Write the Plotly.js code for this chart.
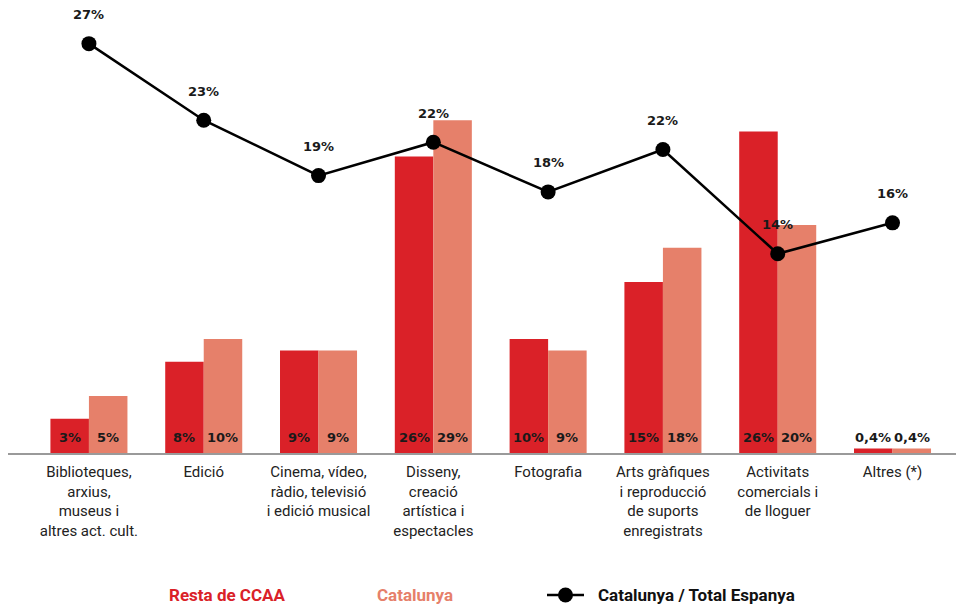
<!DOCTYPE html>
<html>
<head>
<meta charset="utf-8">
<script src="https://cdn.plot.ly/plotly-3.0.1.min.js"></script>
<style>html,body{margin:0;padding:0;background:#fff;}#chart{width:956px;height:606px;}</style>
</head>
<body>
<div id="chart"></div>
<script>
// ---- data ----
const categories = [
  'Biblioteques,<br>arxius,<br>museus i<br>altres act. cult.',
  'Edició',
  'Cinema, vídeo,<br>ràdio, televisió<br>i edició musical',
  'Disseny,<br>creació<br>artística i<br>espectacles',
  'Fotografia',
  'Arts gràfiques<br>i reproducció<br>de suports<br>enregistrats',
  'Activitats<br>comercials i<br>de lloguer',
  'Altres (*)'
];
const restaValues = [3, 8, 9, 26, 10, 15, 28.2, 0.4];
const restaLabels = ['3%', '8%', '9%', '26%', '10%', '15%', '26%', '0,4%'];
const catValues = [5, 10, 9, 29.2, 9, 18, 20, 0.4];
const catLabels = ['5%', '10%', '9%', '29%', '9%', '18%', '20%', '0,4%'];
const ratioValues = [27, 22.3, 18.9, 20.95, 17.9, 20.5, 14.1, 16.0];
const ratioLabels = ['27%', '23%', '19%', '22%', '18%', '22%', '14%', '16%'];
const seriesNames = ['Resta de CCAA', 'Catalunya', 'Catalunya / Total Espanya'];

// ---- style ----
const RED = '#DA2128';
const SALMON = '#E6806A';
const narrow = 'Roboto, "DejaVu Sans", sans-serif';
const numFont = {family: '"DejaVu Sans", sans-serif', size: 13, color: '#1a1a1a', weight: 'bold'};
const half = 19.25;

// plot box in pixels (for converting legend decoration to paper coords)
const W = 956, H = 606, L = 8, B = 153;
const PW = W - L, PH = H - B;
const px = v => (v - L) / PW;
const py = v => (PH - v) / PH;
const legY = 595;

const traces = [
  {type: 'bar', name: seriesNames[0], x: categories, y: restaValues,
   marker: {color: RED}, showlegend: false, hoverinfo: 'skip'},
  {type: 'bar', name: seriesNames[1], x: categories, y: catValues,
   marker: {color: SALMON}, showlegend: false, hoverinfo: 'skip'},
  {type: 'scatter', mode: 'lines+markers', name: seriesNames[2], x: categories, y: ratioValues,
   yaxis: 'y2', line: {color: '#000', width: 2.5}, marker: {color: '#000', size: 15},
   showlegend: false, hoverinfo: 'skip', cliponaxis: false}
];

const annotations = [];
categories.forEach((c, i) => {
  annotations.push({x: c, y: 0, xref: 'x', yref: 'y', text: restaLabels[i], showarrow: false,
    xshift: -half, yshift: 16, font: numFont, xanchor: 'center', yanchor: 'middle'});
  annotations.push({x: c, y: 0, xref: 'x', yref: 'y', text: catLabels[i], showarrow: false,
    xshift: half, yshift: 16, font: numFont, xanchor: 'center', yanchor: 'middle'});
  annotations.push({x: c, y: ratioValues[i], xref: 'x', yref: 'y2', text: ratioLabels[i], showarrow: false,
    yshift: 29, font: numFont, xanchor: 'center', yanchor: 'middle'});
});
const legFont = (col) => ({family: narrow, size: 17, color: col, weight: 'bold'});
annotations.push({x: px(227), y: py(legY), xref: 'paper', yref: 'paper', text: seriesNames[0],
  showarrow: false, font: legFont(RED), xanchor: 'center', yanchor: 'middle'});
annotations.push({x: px(415), y: py(legY), xref: 'paper', yref: 'paper', text: seriesNames[1],
  showarrow: false, font: legFont(SALMON), xanchor: 'center', yanchor: 'middle'});
annotations.push({x: px(596), y: py(legY), xref: 'paper', yref: 'paper', text: seriesNames[2],
  showarrow: false, font: legFont('#111'), xanchor: 'left', yanchor: 'middle'});

const shapes = [
  {type: 'line', xref: 'paper', yref: 'paper', x0: px(547), x1: px(584), y0: py(legY), y1: py(legY),
   line: {color: '#000', width: 2.5}},
  {type: 'circle', xref: 'paper', yref: 'paper', x0: px(558), x1: px(573), y0: py(legY + 7.5), y1: py(legY - 7.5),
   fillcolor: '#000', line: {color: '#000', width: 0}}
];

const layout = {
  width: W, height: H,
  margin: {l: L, r: 0, t: 0, b: B},
  paper_bgcolor: '#fff', plot_bgcolor: '#fff',
  barmode: 'group', bargap: 0.329, bargroupgap: 0,
  showlegend: false,
  xaxis: {type: 'category', range: [-0.705, 7.553], showline: true, linecolor: '#9a9a9a', linewidth: 2,
    ticks: '', showgrid: false, zeroline: false, ticklabelstandoff: 4, automargin: false,
    tickfont: {family: narrow, size: 15, color: '#222'}},
  yaxis: {range: [0, 39.74], visible: false, showgrid: false, zeroline: false},
  yaxis2: {range: [1.87, 29.68], overlaying: 'y', visible: false, showgrid: false, zeroline: false},
  annotations: annotations,
  shapes: shapes
};

Plotly.newPlot('chart', traces, layout, {displayModeBar: false, staticPlot: true});
</script>
</body>
</html>
